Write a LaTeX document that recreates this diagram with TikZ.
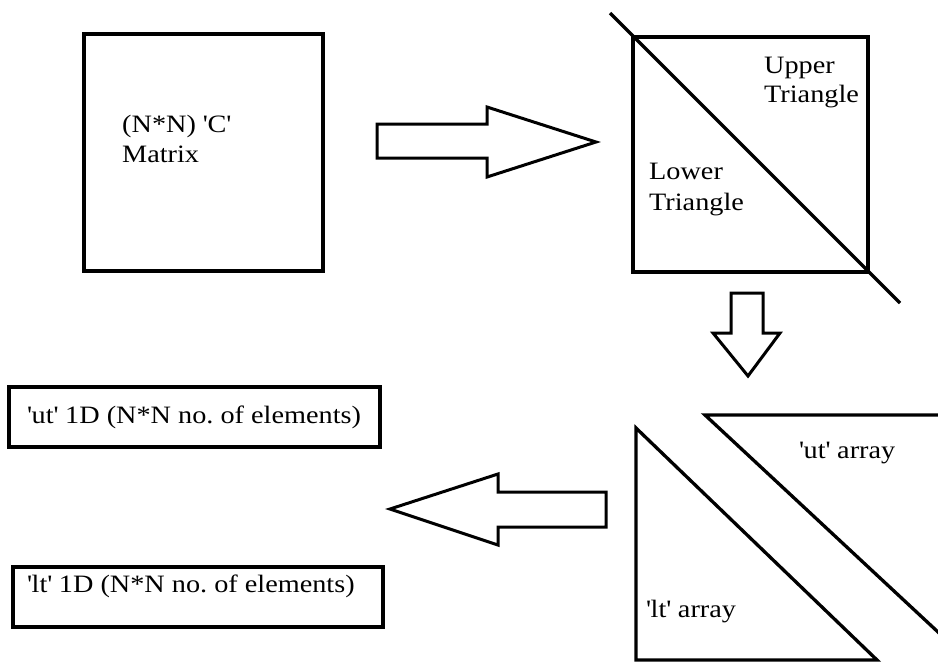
\documentclass[tikz,border=0pt]{standalone}
\usepackage{fontspec}
\setmainfont{Liberation Serif}[FakeStretch=1.13]
\newcommand{\sq}{\textquotesingle}
\frenchspacing
\begin{document}
\begin{tikzpicture}[x=1pt,y=-1pt,
  thick line/.style={line width=3.3pt, line join=miter},
  box/.style={draw, line width=3.3pt, inner sep=0pt},
  label/.style={anchor=base west, inner sep=0pt, font=\fontsize{25}{29}\selectfont},
  blockarrow/.style={draw, line width=3pt, line join=miter, fill=white}]
  \useasboundingbox (0,0) rectangle (938,662);
  \clip (0,0) rectangle (938,662);

  % square matrix
  \node[box, minimum width=239pt, minimum height=237pt] (cmat) at (203.5,152.5) {};
  \node[label] (cmatA) at (122,132) {(N*N) \sq C\sq};
  \node[label] (cmatB) at (122,162) {Matrix};

  % arrow to the split matrix
  \draw[blockarrow] (377,124) -- (487,124) -- (487,107) -- (596,142)
    -- (487,177) -- (487,158) -- (377,158) -- cycle;

  % matrix split along its diagonal
  \node[box, minimum width=235pt, minimum height=235pt] (split) at (750.5,154.5) {};
  \coordinate (diagA) at (610,13);
  \coordinate (diagB) at (900,303);
  \draw[thick line] (diagA) -- (diagB);
  \node[label] (upA) at (764,73) {Upper};
  \node[label] (upB) at (764,102) {Triangle};
  \node[label] (loA) at (649,179) {Lower};
  \node[label] (loB) at (649,210) {Triangle};

  % arrow down to the two triangles
  \draw[blockarrow] (731,293) -- (763,293) -- (763,333) -- (780,333)
    -- (748,376) -- (713,333) -- (731,333) -- cycle;

  % lower and upper triangle arrays
  \draw[thick line] (636,428) -- (636,660) -- (877,660) -- cycle;
  \draw[thick line] (960,415) -- (705,415) -- (960,652.5);
  \node[label] (utarr) at (799,458) {\sq ut\sq{} array};
  \node[label] (ltarr) at (646,617) {\sq lt\sq{} array};

  % arrow back to the 1D arrays
  \draw[blockarrow] (606,492) -- (498,492) -- (498,474) -- (390,509)
    -- (498,545) -- (498,527) -- (606,527) -- cycle;

  % 1D arrays
  \node[box, minimum width=371pt, minimum height=60pt] (ut) at (194.5,417) {};
  \node[label] (uttext) at (27,423) {\sq ut\sq{} 1D (N*N no. of elements)};
  \node[box, minimum width=370pt, minimum height=60pt] (lt) at (198,597) {};
  \node[label] (lttext) at (27,592) {\sq lt\sq{} 1D (N*N no. of elements)};
\end{tikzpicture}
\end{document}
